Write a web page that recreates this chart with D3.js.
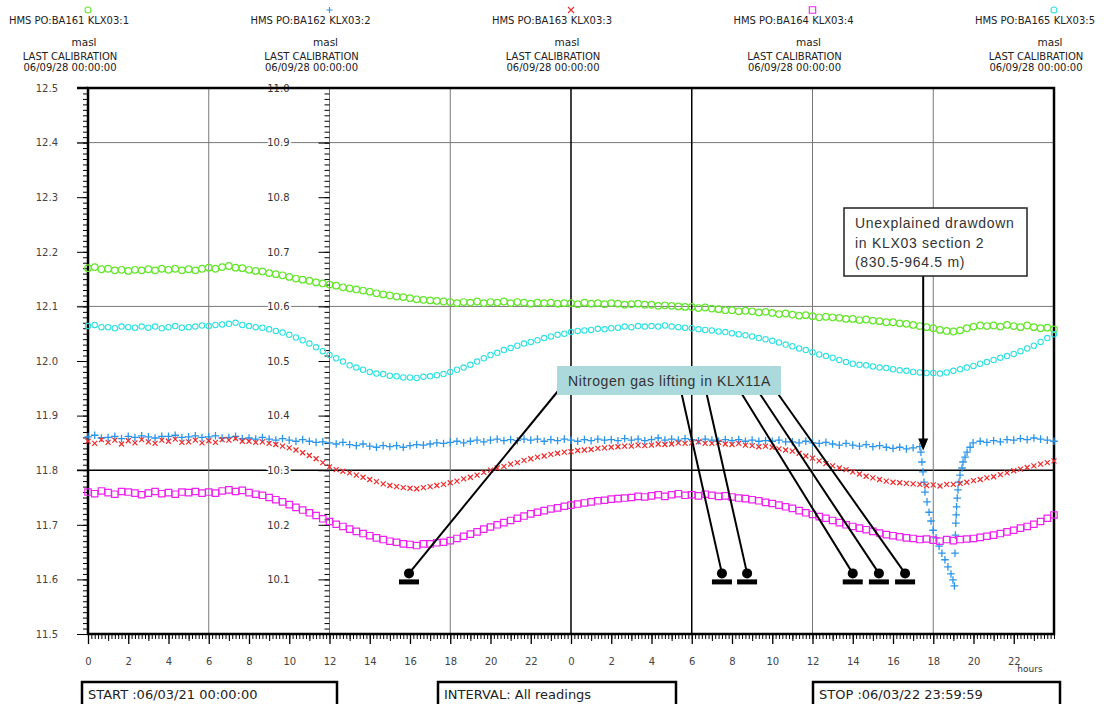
<!DOCTYPE html>
<html>
<head>
<meta charset="utf-8">
<script src="https://cdn.jsdelivr.net/npm/d3@7"></script>
<style>
body{margin:0;background:#fff}
svg{display:block;font-family:"DejaVu Sans",Verdana,sans-serif}
</style>
</head>
<body>
<div id="chart"></div>
<script>
// sensor headers
const sensorNames = ['HMS PO:BA161 KLX03:1','HMS PO:BA162 KLX03:2','HMS PO:BA163 KLX03:3','HMS PO:BA164 KLX03:4','HMS PO:BA165 KLX03:5']
const sensorUnit = 'masl'
const calibration = ['LAST CALIBRATION','06/09/28 00:00:00']

// readings every 20 minutes, 0..48 h
const sampleHours = d3.range(145).map(i => i/3)

const level1 = [
12.170,12.172,12.168, 12.169,12.166,12.167,
12.165,12.167,12.166, 12.168,12.166,12.169,
12.167,12.169,12.166, 12.168,12.166,12.169,
12.171,12.169,12.172, 12.174,12.171,12.170,
12.167,12.165,12.164, 12.161,12.159,12.157,
12.154,12.151,12.149, 12.147,12.144,12.142,
12.140,12.138,12.135, 12.133,12.131,12.129,
12.127,12.124,12.122, 12.120,12.118,12.117,
12.115,12.113,12.112, 12.111,12.110,12.109,
12.108,12.106,12.108, 12.107,12.109,12.106,
12.108,12.107,12.109, 12.106,12.108,12.107,
12.105,12.107,12.106, 12.107,12.105,12.106,
12.106,12.104,12.107, 12.105,12.106,12.104,
12.106,12.105,12.103, 12.104,12.105,12.103,
12.103,12.101,12.102, 12.101,12.100,12.099,
12.099,12.097,12.098, 12.096,12.095,12.093,
12.093,12.091,12.092, 12.091,12.089,12.090,
12.088,12.086,12.087, 12.085,12.083,12.084,
12.082,12.080,12.081, 12.080,12.079,12.077,
12.077,12.075,12.076, 12.074,12.073,12.071,
12.071,12.069,12.068, 12.066,12.064,12.062,
12.060,12.057,12.055, 12.054,12.056,12.060,
12.063,12.065,12.064, 12.065,12.063,12.066,
12.064,12.062,12.065, 12.062,12.060,12.061,
12.058]

// section 2, regular readings (null where the drawdown readings take over)
const level2 = [
11.861,11.864,11.859, 11.860,11.862,11.858,
11.862,11.860,11.863, 11.861,11.859,11.862,
11.862,11.864,11.860, 11.861,11.863,11.860,
11.861,11.863,11.859, 11.860,11.862,11.858,
11.859,11.857,11.860, 11.857,11.855,11.858,
11.855,11.853,11.856, 11.853,11.851,11.852,
11.850,11.848,11.851, 11.847,11.845,11.848,
11.844,11.842,11.845, 11.843,11.845,11.842,
11.845,11.847,11.846, 11.848,11.850,11.849,
11.851,11.853,11.850, 11.853,11.855,11.852,
11.855,11.857,11.854, 11.856,11.854,11.857,
11.855,11.857,11.853, 11.856,11.854,11.857,
11.855,11.853,11.856, 11.854,11.857,11.855,
11.856,11.854,11.858, 11.855,11.857,11.854,
11.856,11.859,11.855, 11.857,11.855,11.858,
11.856,11.854,11.857, 11.855,11.853,11.856,
11.854,11.856,11.853, 11.855,11.853,11.854,
11.853,11.855,11.852, 11.852,11.850,11.853,
11.850,11.849,11.851, 11.848,11.846,11.849,
11.846,11.844,11.847, 11.843,11.845,11.842,
11.840,11.842,11.839, 11.841,11.843,null,
null,null,null, null,null,null,
null,11.853,11.851, 11.854,11.852,11.856,
11.855,11.858,11.856, 11.859,11.857,11.855,
11.853]
const drawdownHours = [41.39,41.44,41.49,41.54,41.59,41.69,41.79,41.89,41.99,42.14,42.29,42.43,42.58,42.73,42.88,42.98,43.05,
  43.08,43.10,43.12,43.14,43.16,43.19,43.23,43.28,43.33,43.43,43.48,43.58,43.68,43.83,43.98]
const drawdownLevels = [11.833,11.815,11.797,11.778,11.760,11.742,11.723,11.707,11.690,11.676,11.661,11.648,11.636,11.623,11.610,11.599,11.588,
  11.648,11.681,11.703,11.718,11.733,11.749,11.764,11.778,11.791,11.804,11.815,11.824,11.833,11.842,11.850]

const level3 = [
11.853,11.849,11.856, 11.851,11.855,11.848,
11.854,11.850,11.856, 11.852,11.849,11.855,
11.853,11.857,11.851, 11.852,11.855,11.850,
11.854,11.851,11.856, 11.855,11.858,11.853,
11.853,11.851,11.852, 11.849,11.847,11.844,
11.841,11.837,11.832, 11.827,11.821,11.814,
11.806,11.801,11.798, 11.795,11.791,11.787,
11.783,11.779,11.775, 11.772,11.770,11.768,
11.767,11.766,11.768, 11.770,11.772,11.774,
11.777,11.780,11.784, 11.787,11.791,11.796,
11.800,11.804,11.807, 11.811,11.814,11.818,
11.821,11.824,11.826, 11.829,11.831,11.833,
11.834,11.836,11.837, 11.838,11.840,11.841,
11.842,11.843,11.844, 11.844,11.846,11.845,
11.846,11.848,11.847, 11.848,11.850,11.849,
11.850,11.852,11.849, 11.849,11.851,11.848,
11.847,11.849,11.846, 11.845,11.843,11.844,
11.842,11.839,11.837, 11.835,11.831,11.826,
11.822,11.817,11.812, 11.808,11.804,11.801,
11.797,11.793,11.789, 11.786,11.783,11.780,
11.778,11.777,11.776, 11.775,11.774,11.772,
11.773,11.771,11.774, 11.774,11.776,11.778,
11.781,11.783,11.786, 11.788,11.792,11.795,
11.799,11.802,11.805, 11.808,11.811,11.814,
11.817]

const level4 = [
11.760,11.757,11.762, 11.759,11.756,11.761,
11.760,11.758,11.755, 11.758,11.761,11.757,
11.759,11.756,11.760, 11.759,11.761,11.758,
11.760,11.758,11.762, 11.764,11.761,11.763,
11.759,11.756,11.754, 11.750,11.746,11.742,
11.737,11.732,11.727, 11.722,11.717,11.711,
11.706,11.701,11.697, 11.692,11.688,11.684,
11.680,11.676,11.673, 11.670,11.668,11.665,
11.664,11.662,11.665, 11.665,11.667,11.668,
11.671,11.675,11.679, 11.683,11.687,11.692,
11.696,11.700,11.704, 11.708,11.712,11.716,
11.720,11.723,11.726, 11.729,11.731,11.734,
11.736,11.738,11.740, 11.742,11.744,11.745,
11.747,11.748,11.749, 11.750,11.752,11.751,
11.753,11.755,11.752, 11.755,11.757,11.754,
11.755,11.753,11.756, 11.754,11.752,11.753,
11.751,11.749,11.748, 11.746,11.744,11.741,
11.739,11.736,11.733, 11.730,11.726,11.722,
11.719,11.715,11.712, 11.708,11.704,11.700,
11.697,11.694,11.691, 11.688,11.685,11.682,
11.680,11.678,11.676, 11.675,11.673,11.674,
11.672,11.670,11.673, 11.671,11.673,11.674,
11.675,11.677,11.679, 11.681,11.684,11.687,
11.690,11.694,11.697, 11.701,11.706,11.712,
11.718]

const level5 = [
12.064,12.066,12.062, 12.062,12.060,12.063,
12.062,12.061,12.063, 12.061,12.063,12.060,
12.062,12.064,12.061, 12.062,12.063,12.065,
12.064,12.066,12.067, 12.068,12.070,12.066,
12.064,12.062,12.061, 12.058,12.055,12.052,
12.048,12.043,12.038, 12.032,12.025,12.018,
12.011,12.005,11.999, 11.992,11.988,11.984,
11.980,11.977,11.976, 11.973,11.972,11.970,
11.970,11.969,11.971, 11.972,11.974,11.976,
11.980,11.984,11.988, 11.993,11.999,12.005,
12.011,12.015,12.020, 12.024,12.028,12.032,
12.035,12.038,12.042, 12.045,12.048,12.050,
12.053,12.055,12.056, 12.057,12.059,12.058,
12.060,12.061,12.063, 12.062,12.064,12.063,
12.064,12.063,12.065, 12.063,12.062,12.061,
12.060,12.058,12.057, 12.056,12.054,12.053,
12.051,12.049,12.047, 12.045,12.042,12.040,
12.037,12.034,12.030, 12.027,12.023,12.020,
12.016,12.012,12.009, 12.006,12.002,11.998,
11.995,11.993,11.992, 11.990,11.988,11.987,
11.985,11.983,11.982, 11.980,11.979,11.978,
11.978,11.977,11.979, 11.982,11.985,11.988,
11.991,11.995,11.998, 12.002,12.006,12.009,
12.013,12.018,12.023, 12.028,12.035,12.042,
12.049]

// annotations
const nitrogenHours = [15.95, 31.5, 32.75, 38.0, 39.3, 40.6]
const nitrogenLevel = 11.6
const nitrogenText = 'Nitrogen gas lifting in KLX11A'
const drawdownText = ['Unexplained drawdown','in KLX03 section 2','(830.5-964.5 m)']
const drawdownArrowHour = 41.5
const drawdownArrowLevel = 11.836

const footer = ['START :06/03/21 00:00:00','INTERVAL: All readings','STOP :06/03/22 23:59:59']

const width = 1110, height = 704
const svg = d3.select('#chart').append('svg').attr('width', width).attr('height', height)

const x = d3.scaleLinear().domain([0, 48]).range([88, 1054])
const y = d3.scaleLinear().domain([11.5, 12.5]).range([634, 88])
const y2 = d3.scaleLinear().domain([10.0, 11.0]).range([634, 88])

// markers
const shapes = {
  circle: r => `M${r},0A${r},${r} 0 1,1 ${-r},0A${r},${r} 0 1,1 ${r},0Z`,
  plus: r => `M${-r},0H${r}M0,${-r}V${r}`,
  times: r => `M${-r},${-r}L${r},${r}M${-r},${r}L${r},${-r}`,
  square: r => `M${-r},${-r}h${2*r}v${2*r}h${-2*r}Z`
}
const series = [
  {values: level1, color: '#66e62e', shape: 'circle', r: 3.3, w: 1.2},
  {values: level5, color: '#2fe0e0', shape: 'circle', r: 2.7, w: 1.1},
  {values: level2, color: '#2b95e9', shape: 'plus', r: 3.8, w: 1.3},
  {values: level3, color: '#ee2a2a', shape: 'times', r: 2.5, w: 1.2},
  {values: level4, color: '#ee22ee', shape: 'square', r: 3.2, w: 1.2}
]
const headerOrder = [0, 2, 3, 4, 1]

// grid
const grid = svg.append('g')
grid.selectAll('.hg').data([12.4, 12.1, 11.8]).join('line')
  .attr('x1', 77).attr('x2', x(48))
  .attr('y1', d => y(d)).attr('y2', d => y(d))
  .attr('stroke', d => d === 11.8 ? '#000' : '#777')
  .attr('stroke-width', d => d === 11.8 ? 1.5 : 1)
grid.selectAll('.vg').data([6, 12, 18, 24, 30, 36, 42]).join('line')
  .attr('x1', d => x(d)).attr('x2', d => x(d))
  .attr('y1', y(12.5)).attr('y2', y(11.5))
  .attr('stroke', d => (d === 24 || d === 30) ? '#000' : '#777')
  .attr('stroke-width', d => (d === 24 || d === 30) ? 1.5 : 1)

// left axis
const majorY = d3.range(0, 11).map(i => 11.5 + i / 10)
const minorY = d3.range(0, 101).map(i => 11.5 + i / 100)
const leftMinor = svg.append('g').attr('transform', `translate(${x(0)},0)`)
  .call(d3.axisLeft(y).tickValues(minorY).tickSize(5).tickFormat(''))
leftMinor.select('.domain').remove()
leftMinor.selectAll('line').attr('stroke', '#000')
const leftMajor = svg.append('g').attr('transform', `translate(${x(0)},0)`)
  .call(d3.axisLeft(y).tickValues(majorY).tickSize(11).tickPadding(19).tickFormat(d3.format('.1f')))
leftMajor.select('.domain').remove()
leftMajor.selectAll('text').attr('font-size', 10).attr('fill', '#444').attr('font-family', '"DejaVu Sans",Verdana,sans-serif')

// second axis on the 12 h line
const majorY2 = d3.range(1, 11).map(i => 10 + i / 10)
const minorY2 = d3.range(0, 101).map(i => 10 + i / 100)
const midMinor = svg.append('g').attr('transform', `translate(${x(12)},0)`)
  .call(d3.axisLeft(y2).tickValues(minorY2).tickSize(5).tickFormat(''))
midMinor.select('.domain').remove()
midMinor.selectAll('line').attr('stroke', '#000')
const midMajor = svg.append('g').attr('transform', `translate(${x(12)},0)`)
  .call(d3.axisLeft(y2).tickValues(majorY2).tickSize(11).tickPadding(29).tickFormat(d3.format('.1f')))
midMajor.select('.domain').remove()
midMajor.selectAll('text').attr('font-size', 10).attr('fill', '#333')
  .attr('font-family', '"DejaVu Sans",Verdana,sans-serif')
  .attr('stroke', '#fff').attr('stroke-width', 4).attr('paint-order', 'stroke')

// bottom axis
const xMinor = d3.range(0, 289).map(i => i / 6)
const bMinor = svg.append('g').attr('transform', `translate(0,${y(11.5)})`)
  .call(d3.axisBottom(x).tickValues(xMinor).tickSize(5).tickFormat(''))
bMinor.select('.domain').remove()
bMinor.selectAll('line').attr('stroke', '#000')
const bMid = svg.append('g').attr('transform', `translate(0,${y(11.5)})`)
  .call(d3.axisBottom(x).tickValues(d3.range(1, 48, 2)).tickSize(7).tickFormat(''))
bMid.select('.domain').remove()
const xMajor = d3.range(0, 48, 2)
const bMajor = svg.append('g').attr('transform', `translate(0,${y(11.5)})`)
  .call(d3.axisBottom(x).tickValues(xMajor).tickSize(10).tickPadding(14).tickFormat(d => d % 24))
bMajor.select('.domain').remove()
bMajor.selectAll('line').attr('stroke-width', 1.3)
bMajor.selectAll('text').attr('font-size', 10).attr('fill', '#444').attr('font-family', '"DejaVu Sans",Verdana,sans-serif')
svg.append('text').attr('x', 1030).attr('y', 672).attr('font-size', 9).attr('fill', '#333').attr('text-anchor', 'middle').text('hours')

// frame
svg.append('rect').attr('x', x(0)).attr('y', y(12.5))
  .attr('width', x(48) - x(0)).attr('height', y(11.5) - y(12.5))
  .attr('fill', 'none').attr('stroke', '#000').attr('stroke-width', 2.5)
svg.append('line').attr('x1', 77).attr('x2', x(0)).attr('y1', y(12.5)).attr('y2', y(12.5)).attr('stroke', '#000').attr('stroke-width', 2.5)

// data
const plot = svg.append('g')
series.forEach(s => {
  const pts = sampleHours.map((h, i) => [h, s.values[i]]).filter(p => p[1] != null)
  if (s.values === level2) drawdownHours.forEach((h, i) => pts.push([h, drawdownLevels[i]]))
  plot.append('g').selectAll('path').data(pts).join('path')
    .attr('transform', d => `translate(${x(d[0])},${y(d[1])})`)
    .attr('d', shapes[s.shape](s.r))
    .attr('fill', 'none').attr('stroke', s.color).attr('stroke-width', s.w)
})

// header
const head = svg.append('g')
sensorNames.forEach((name, i) => {
  const s = series[headerOrder[i]]
  const cx = x(i * 12)
  head.append('path').attr('transform', `translate(${cx},10)`).attr('d', shapes[s.shape](s.shape === 'square' ? 3.2 : 3))
    .attr('fill', 'none').attr('stroke', s.color).attr('stroke-width', 1.1)
  head.append('text').attr('x', cx - 19).attr('y', 24).attr('text-anchor', 'middle').attr('font-size', 10).attr('fill', '#222').text(name)
  head.append('text').attr('x', cx - 4).attr('y', 46).attr('text-anchor', 'middle').attr('font-size', 10.5).attr('fill', '#222').text(sensorUnit)
  calibration.forEach((c, k) => head.append('text').attr('x', cx - 18).attr('y', 60 + k * 11)
    .attr('text-anchor', 'middle').attr('font-size', 10).attr('fill', '#222').text(c))
})

// nitrogen annotation
const ann = svg.append('g').attr('font-family', '"Liberation Sans",Arial,sans-serif')
const nb = {x: 557, y: 366, w: 224, h: 29}
const leaderStart = [0, 123, 148, 182, 200, 218]
nitrogenHours.forEach((h, i) => {
  const px = x(h), py = y(nitrogenLevel) - 6
  ann.append('line').attr('x1', nb.x + leaderStart[i] + 1).attr('y1', nb.y + nb.h - 4)
    .attr('x2', px).attr('y2', py).attr('stroke', '#000').attr('stroke-width', 2)
  ann.append('circle').attr('cx', px).attr('cy', py).attr('r', 5).attr('fill', '#000')
  ann.append('rect').attr('x', px - 10).attr('y', y(nitrogenLevel)).attr('width', 20).attr('height', 5).attr('fill', '#000')
})
ann.append('rect').attr('x', nb.x).attr('y', nb.y).attr('width', nb.w).attr('height', nb.h).attr('fill', '#acd9dc')
ann.append('text').attr('x', nb.x + 11).attr('y', nb.y + 20).attr('font-size', 14).attr('letter-spacing', 0.6).attr('fill', '#333').text(nitrogenText)

// drawdown annotation
const db = {x: 844, y: 208, w: 183, h: 68}
const ax = x(drawdownArrowHour), ay = y(drawdownArrowLevel)
ann.append('line').attr('x1', ax).attr('x2', ax).attr('y1', db.y + db.h).attr('y2', ay - 10).attr('stroke', '#000').attr('stroke-width', 2)
ann.append('path').attr('d', `M${ax - 5},${ay - 12}L${ax + 5},${ay - 12}L${ax},${ay}Z`).attr('fill', '#000')
ann.append('rect').attr('x', db.x).attr('y', db.y).attr('width', db.w).attr('height', db.h)
  .attr('fill', '#fff').attr('stroke', '#222').attr('stroke-width', 1.5)
drawdownText.forEach((t, i) => ann.append('text').attr('x', db.x + 11).attr('y', db.y + 20 + i * 19.5)
  .attr('font-size', 14).attr('letter-spacing', 0.7).attr('fill', '#333').text(t))

// footer boxes
const boxes = [{x: 82, w: 255}, {x: 438, w: 238}, {x: 813, w: 247}]
boxes.forEach((b, i) => {
  svg.append('rect').attr('x', b.x).attr('y', 682).attr('width', b.w).attr('height', 30)
    .attr('fill', 'none').attr('stroke', '#000').attr('stroke-width', 2.5)
  svg.append('text').attr('x', b.x + 6).attr('y', 699).attr('font-size', 13).attr('fill', '#222').text(footer[i])
})
</script>
</body>
</html>
